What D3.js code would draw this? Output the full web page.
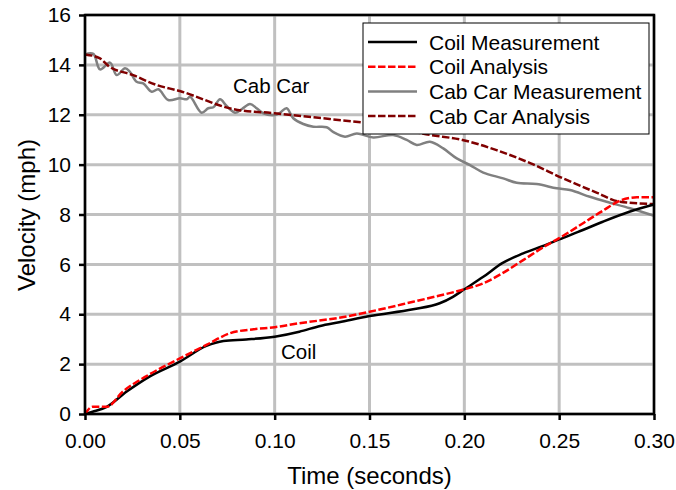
<!DOCTYPE html>
<html>
<head>
<meta charset="utf-8">
<script src="https://cdn.jsdelivr.net/npm/d3@7"></script>
<style>
  html, body { margin: 0; padding: 0; background: #fff; }
  svg { display: block; font-family: "Liberation Sans", Arial, sans-serif; }
</style>
</head>
<body>
<svg id="chart" width="676" height="490"></svg>
<script>
// ---- data ----
const xTicks = [0, 0.05, 0.10, 0.15, 0.20, 0.25, 0.30];
const yTicks = [0, 2, 4, 6, 8, 10, 12, 14, 16];

const coilMeasT = [0, 0.004, 0.0115, 0.022, 0.034, 0.05, 0.064, 0.073, 0.085, 0.10, 0.113, 0.124, 0.134, 0.15, 0.173, 0.187, 0.194, 0.20, 0.21, 0.22, 0.231, 0.243, 0.25, 0.26, 0.273, 0.287, 0.30];
const coilMeasV = [0, 0.09, 0.29, 0.9, 1.5, 2.1, 2.73, 2.93, 2.99, 3.1, 3.3, 3.53, 3.68, 3.93, 4.2, 4.44, 4.7, 5.0, 5.5, 6.05, 6.44, 6.78, 7.0, 7.3, 7.71, 8.11, 8.4];

const coilAnaT = [0, 0.004, 0.0115, 0.020, 0.034, 0.05, 0.064, 0.0765, 0.089, 0.10, 0.113, 0.134, 0.15, 0.173, 0.187, 0.20, 0.21, 0.22, 0.231, 0.243, 0.25, 0.2626, 0.273, 0.282, 0.291, 0.30];
const coilAnaV = [0, 0.29, 0.29, 0.9, 1.59, 2.23, 2.77, 3.24, 3.4, 3.48, 3.64, 3.86, 4.1, 4.5, 4.75, 5.0, 5.24, 5.64, 6.17, 6.75, 7.05, 7.65, 8.15, 8.55, 8.69, 8.69];

const cabMeasT = [0, 0.0044, 0.0079, 0.0132, 0.0167, 0.0211, 0.0237, 0.0272, 0.0307, 0.0352, 0.0387, 0.0439, 0.05, 0.0536, 0.0554, 0.0615, 0.065, 0.0677, 0.0712, 0.0747, 0.0791, 0.0826, 0.087, 0.0905, 0.094, 0.10, 0.1028, 0.1063, 0.1098, 0.1151, 0.1204, 0.1274, 0.1310, 0.1371, 0.1433, 0.152, 0.1625, 0.1696, 0.1749, 0.1819, 0.1889, 0.196, 0.203, 0.21, 0.2205, 0.2276, 0.2381, 0.2487, 0.2557, 0.2662, 0.275, 0.2873, 0.30];
const cabMeasV = [14.42, 14.44, 13.82, 14.09, 13.59, 13.86, 13.72, 13.32, 13.26, 12.92, 13.02, 12.59, 12.66, 12.62, 12.72, 12.08, 12.26, 12.30, 12.62, 12.35, 12.08, 12.22, 12.43, 12.26, 12.06, 11.99, 12.08, 12.26, 11.86, 11.63, 11.52, 11.5, 11.3, 11.12, 11.25, 11.09, 11.19, 10.99, 10.79, 10.92, 10.65, 10.25, 9.98, 9.68, 9.45, 9.27, 9.22, 9.05, 8.98, 8.71, 8.51, 8.25, 7.95];

const cabAnaT = [0, 0.0079, 0.0125, 0.025, 0.0375, 0.05, 0.078, 0.10, 0.129, 0.15, 0.182, 0.199, 0.217, 0.235, 0.252, 0.27, 0.282, 0.30];
const cabAnaV = [14.42, 14.26, 13.95, 13.6, 13.2, 12.95, 12.23, 12.06, 11.83, 11.65, 11.19, 10.99, 10.58, 10.05, 9.45, 8.87, 8.51, 8.42];

const seriesNames = ["Coil Measurement", "Coil Analysis", "Cab Car Measurement", "Cab Car Analysis"];

// ---- layout ----
const svg = d3.select("#chart");
const L = 85, R = 654, T = 15, B = 414;
const x = d3.scaleLinear().domain([0, 0.30]).range([L, R]);
const y = d3.scaleLinear().domain([0, 16]).range([B, T]);

// grid
const grid = svg.append("g");
grid.selectAll(".gx").data(xTicks).enter().append("line")
  .attr("x1", d => x(d)).attr("x2", d => x(d)).attr("y1", T).attr("y2", B)
  .attr("stroke", "#c0c0c0").attr("stroke-width", 3);
grid.selectAll(".gy").data(yTicks).enter().append("line")
  .attr("y1", d => y(d)).attr("y2", d => y(d)).attr("x1", L).attr("x2", R)
  .attr("stroke", "#c0c0c0").attr("stroke-width", 3);

// axes
const xAxis = d3.axisBottom(x).tickValues(xTicks).tickFormat(d3.format(".2f")).tickSize(6).tickPadding(8);
const yAxis = d3.axisLeft(y).tickValues(yTicks).tickFormat(d3.format("d")).tickSize(6).tickPadding(8);
const gx = svg.append("g").attr("transform", `translate(0,${B})`).call(xAxis);
const gy = svg.append("g").attr("transform", `translate(${L},0)`).call(yAxis);
[gx, gy].forEach(g => {
  g.select(".domain").remove();
  g.selectAll(".tick line").attr("stroke", "#000").attr("stroke-width", 2.5);
  g.selectAll(".tick text").attr("fill", "#000").style("font-size", "21px")
    .style("font-family", "'Liberation Sans', Arial, sans-serif");
});
gx.selectAll(".tick text").attr("dy", "0.95em");

// lines
const mk = (ts, vs) => ts.map((t, i) => [t, vs[i]]);
const line = d3.line().x(d => x(d[0])).y(d => y(d[1]));
const plot = svg.append("g");
const series = [
  { data: mk(cabMeasT, cabMeasV), color: "#808080", dash: null, curve: d3.curveCatmullRom.alpha(0.5) },
  { data: mk(cabAnaT, cabAnaV), color: "#800000", dash: "7.5,2.5", curve: d3.curveMonotoneX },
  { data: mk(coilMeasT, coilMeasV), color: "#000000", dash: null, curve: d3.curveMonotoneX },
  { data: mk(coilAnaT, coilAnaV), color: "#ff0000", dash: "7.5,2.5", curve: d3.curveMonotoneX }
];
series.forEach(s => {
  plot.append("path").datum(s.data)
    .attr("d", line.curve(s.curve))
    .attr("fill", "none").attr("stroke", s.color).attr("stroke-width", 2.5)
    .attr("stroke-dasharray", s.dash)
    .attr("stroke-linejoin", "round");
});

// frame
svg.append("rect").attr("x", L).attr("y", T).attr("width", R - L).attr("height", B - T)
  .attr("fill", "none").attr("stroke", "#000").attr("stroke-width", 2.5);

// annotations
svg.append("text").attr("x", 233).attr("y", 93).text("Cab Car")
  .style("font-size", "20.5px").attr("fill", "#000");
svg.append("text").attr("x", 281).attr("y", 359).text("Coil")
  .style("font-size", "20.5px").attr("fill", "#000");

// axis titles
svg.append("text").attr("x", (L + R) / 2).attr("y", 484).attr("text-anchor", "middle")
  .text("Time (seconds)").style("font-size", "24px").attr("fill", "#000");
svg.append("text").attr("transform", "translate(35,215) rotate(-90)").attr("text-anchor", "middle")
  .text("Velocity (mph)").style("font-size", "24px").attr("fill", "#000");

// legend
const leg = svg.append("g");
leg.append("rect").attr("x", 363).attr("y", 23).attr("width", 286).attr("height", 111)
  .attr("fill", "#fff").attr("stroke", "#000").attr("stroke-width", 1);
const legStyles = [
  { color: "#000000", dash: null },
  { color: "#ff0000", dash: "7.5,2.5" },
  { color: "#808080", dash: null },
  { color: "#800000", dash: "7.5,2.5" }
];
seriesNames.forEach((name, i) => {
  const cy = 42 + i * 24.7;
  leg.append("line").attr("x1", 368).attr("x2", 417).attr("y1", cy).attr("y2", cy)
    .attr("stroke", legStyles[i].color).attr("stroke-width", 2.5)
    .attr("stroke-dasharray", legStyles[i].dash);
  leg.append("text").attr("x", 429).attr("y", cy).attr("dy", "0.36em").text(name)
    .style("font-size", "21px").attr("fill", "#000");
});
</script>
</body>
</html>
